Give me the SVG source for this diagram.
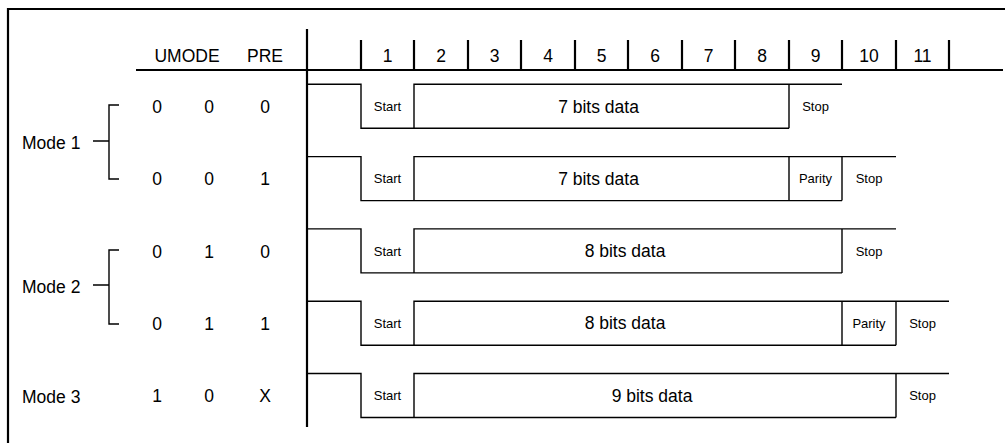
<svg xmlns="http://www.w3.org/2000/svg" width="1005" height="443" viewBox="0 0 1005 443">
<style>
text{font-family:"Liberation Sans",Arial,sans-serif;fill:#000}
.lg{font-size:17.5px}
.sm{font-size:13px}
.c{text-anchor:middle}
.w{fill:none;stroke:#000;stroke-width:1.4}
.h{fill:none;stroke:#000;stroke-width:2.2}
</style>
<rect width="1005" height="443" fill="#fff"/>
<g id="frame">
<path class="h" d="M8,443 V9 H1005"/>
</g>
<g id="header">
<path class="h" d="M136,70 H1003"/>
<path class="h" d="M307,29 V427" stroke-width="2.6"/>
<path class="h" d="M361,40 V70 M414,40 V70 M468,40 V70 M521,40 V70 M575,40 V70 M628,40 V70 M682,40 V70 M735,40 V70 M789,40 V70 M842,40 V70 M896,40 V70 M949,40 V70"/>
<text class="lg c" x="187" y="62">UMODE</text>
<text class="lg c" x="265" y="62">PRE</text>
<text class="lg c" x="387.5" y="62">1</text>
<text class="lg c" x="441" y="62">2</text>
<text class="lg c" x="494.5" y="62">3</text>
<text class="lg c" x="548" y="62">4</text>
<text class="lg c" x="601.5" y="62">5</text>
<text class="lg c" x="655" y="62">6</text>
<text class="lg c" x="708.5" y="62">7</text>
<text class="lg c" x="762" y="62">8</text>
<text class="lg c" x="815.5" y="62">9</text>
<text class="lg c" x="869" y="62">10</text>
<text class="lg c" x="922.5" y="62">11</text>
</g>
<g id="mode1">
<path class="w" d="M119,105 H109 V179 H119 M93,141 H109"/>
<text class="lg" x="22" y="149">Mode 1</text>
</g>
<g id="mode2">
<path class="w" d="M119,250 H109 V324 H119 M93,285 H109"/>
<text class="lg" x="22" y="293">Mode 2</text>
</g>
<g id="mode3">
<text class="lg" x="22" y="403">Mode 3</text>
</g>
<g id="row1">
<text class="lg c" x="157" y="113">0</text>
<text class="lg c" x="209" y="113">0</text>
<text class="lg c" x="265" y="113">0</text>
<path class="w" d="M307,84.3 H361 V128.3 H789 M414,128.3 V84.3 H842 M789,84.3 V128.3"/>
<text class="sm c" x="387.5" y="111">Start</text>
<text class="lg c" x="598.5" y="112.5">7 bits data</text>
<text class="sm c" x="815.5" y="111">Stop</text>
</g>
<g id="row2">
<text class="lg c" x="157" y="185.3">0</text>
<text class="lg c" x="209" y="185.3">0</text>
<text class="lg c" x="265" y="185.3">1</text>
<path class="w" d="M307,156.6 H361 V200.6 H842 M414,200.6 V156.6 H896 M789,156.6 V200.6 M842,156.6 V200.6"/>
<text class="sm c" x="387.5" y="183.3">Start</text>
<text class="lg c" x="598.5" y="184.8">7 bits data</text>
<text class="sm c" x="815.5" y="183.3">Parity</text>
<text class="sm c" x="869" y="183.3">Stop</text>
</g>
<g id="row3">
<text class="lg c" x="157" y="257.6">0</text>
<text class="lg c" x="209" y="257.6">1</text>
<text class="lg c" x="265" y="257.6">0</text>
<path class="w" d="M307,228.9 H361 V272.9 H842 M414,272.9 V228.9 H896 M842,228.9 V272.9"/>
<text class="sm c" x="387.5" y="255.6">Start</text>
<text class="lg c" x="625" y="257.1">8 bits data</text>
<text class="sm c" x="869" y="255.6">Stop</text>
</g>
<g id="row4">
<text class="lg c" x="157" y="330">0</text>
<text class="lg c" x="209" y="330">1</text>
<text class="lg c" x="265" y="330">1</text>
<path class="w" d="M307,301.2 H361 V345.2 H896 M414,345.2 V301.2 H949 M842,301.2 V345.2 M896,301.2 V345.2"/>
<text class="sm c" x="387.5" y="327.9">Start</text>
<text class="lg c" x="625" y="329.4">8 bits data</text>
<text class="sm c" x="869" y="327.9">Parity</text>
<text class="sm c" x="922.5" y="327.9">Stop</text>
</g>
<g id="row5">
<text class="lg c" x="157" y="402.2">1</text>
<text class="lg c" x="209" y="402.2">0</text>
<text class="lg c" x="265" y="402.2">X</text>
<path class="w" d="M307,373.5 H361 V417.5 H896 M414,417.5 V373.5 H949 M896,373.5 V417.5"/>
<text class="sm c" x="387.5" y="400.2">Start</text>
<text class="lg c" x="652" y="401.7">9 bits data</text>
<text class="sm c" x="922.5" y="400.2">Stop</text>
</g>
</svg>
